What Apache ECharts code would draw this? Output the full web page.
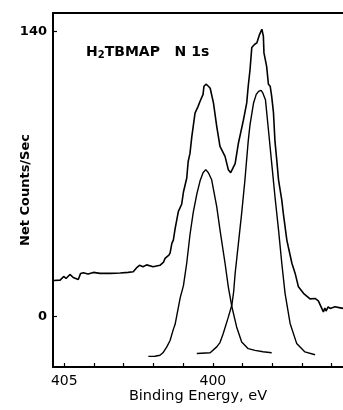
<!DOCTYPE html>
<html>
<head>
<meta charset="utf-8">
<script src="https://cdn.jsdelivr.net/npm/echarts@6/dist/echarts.min.js"></script>
<style>
  html, body { margin: 0; padding: 0; background: #fff; }
  #chart { width: 343px; height: 410px; }
</style>
</head>
<body>
<div id="chart"></div>
<script>
// measured N1s envelope (binding energy in eV, net counts/sec)
const measEnergy = [405.35, 405.14, 405.02, 404.94, 404.81, 404.70, 404.53, 404.45, 404.36, 404.20,
  404.02, 403.80, 403.46, 403.12, 402.85, 402.68, 402.55, 402.47, 402.35, 402.23,
  402.01, 401.78, 401.66, 401.61, 401.48, 401.44, 401.38, 401.33, 401.27, 401.16,
  401.05, 400.99, 400.88, 400.83, 400.77, 400.71, 400.60, 400.50, 400.43, 400.33,
  400.30, 400.23, 400.15, 400.09, 399.98, 399.87, 399.76, 399.59, 399.48, 399.40,
  399.36, 399.25, 399.14, 398.97, 398.86, 398.81, 398.75, 398.69, 398.60, 398.52,
  398.43, 398.35, 398.30, 398.28, 398.19, 398.13, 398.07, 398.02, 397.96, 397.91,
  397.85, 397.79, 397.68, 397.63, 397.51, 397.46, 397.34, 397.23, 397.12, 396.95,
  396.85, 396.73, 396.56, 396.45, 396.39, 396.28, 396.23, 396.19, 396.12, 396.05,
  395.89, 395.75, 395.62];
const measCounts = [17.5, 17.7, 19.5, 18.5, 20.5, 19, 18, 21, 21.3, 20.7,
  21.5, 21, 21, 21.2, 21.5, 21.8, 24, 25, 24.3, 25.2,
  24.3, 25, 26.5, 28.4, 30, 31, 35.8, 37.4, 43, 51.5,
  55, 61, 67.8, 76, 80, 88, 99.8, 103, 105.6, 109,
  113, 114, 113, 112, 104.8, 93.3, 83.4, 78.5, 72, 70.5,
  71, 75, 85, 96.5, 104.8, 113, 121, 132, 133.5, 134.3,
  138.4, 141, 137.6, 129.4, 122.8, 114, 113, 108, 100, 86,
  76.8, 67, 57, 50.6, 37.4, 34, 26, 21, 14.4, 11.2,
  10, 8.5, 8.7, 7.5, 7, 2.1, 4, 2.5, 4.5, 3.8,
  4.6, 4.2, 3.8];

// fitted component 1 (higher binding energy)
const fit1Energy = [402.17, 401.95, 401.78, 401.68, 401.55, 401.44, 401.33, 401.27, 401.10, 400.99,
  400.88, 400.77, 400.66, 400.54, 400.43, 400.33, 400.24, 400.15, 400.04, 399.87,
  399.76, 399.59, 399.48, 399.36, 399.20, 399.03, 398.81, 398.58, 398.31, 398.02];
const fit1Counts = [-19.8, -19.7, -19.2, -18, -15.1, -12, -6.5, -4, 9, 15,
  26, 40, 51, 60, 66.5, 70.5, 72, 70.5, 67, 53.8,
  42.4, 26, 14.4, 4.6, -5.3, -12.7, -16, -16.8, -17.5, -18];

// fitted component 2 (lower binding energy)
const fit2Energy = [400.54, 400.09, 399.87, 399.76, 399.65, 399.48, 399.36, 399.30, 399.25, 399.14,
  399.03, 398.92, 398.81, 398.75, 398.63, 398.54, 398.46, 398.38, 398.33, 398.23,
  398.13, 398.02, 397.91, 397.79, 397.68, 397.57, 397.40, 397.18, 396.90, 396.56];
const fit2Counts = [-18.4, -18, -15.1, -13, -8.5, -0.5, 5.5, 12, 21, 35.8,
  50.6, 67, 86, 94, 104.8, 109, 110.5, 111, 110, 106.4,
  91.6, 75.2, 58.8, 42.4, 26, 11.2, -3.6, -13.4, -17.6, -19];

const xTickValues = [396, 397, 398, 399, 400, 401, 402, 403, 404, 405];
const xLabelValues = [400, 405];
const yTickValues = [0, 140];

const pairs = (xs, ys) => xs.map((x, i) => [x, ys[i]]);

const font = 'DejaVu Sans';
const chart = echarts.init(document.getElementById('chart'));

const lineSeries = (data, width) => ({
  type: 'line',
  data: data,
  showSymbol: false,
  smooth: false,
  lineStyle: { color: '#000', width: width },
  silent: true,
  animation: false
});

chart.setOption({
  animation: false,
  grid: { left: 53, right: 0, top: 13, bottom: 43, outerBoundsMode: 'none', containLabel: false },
  xAxis: [{
    type: 'value',
    inverse: true,
    min: 395.62,
    max: 405.38,
    splitLine: { show: false },
    axisLine: { onZero: false, lineStyle: { color: '#000', width: 2 } },
    axisTick: { inside: true, length: 4, customValues: xTickValues, lineStyle: { color: '#000', width: 1.2 } },
    axisLabel: { customValues: xLabelValues, color: '#000', fontFamily: font, fontSize: 14, margin: 7 },
    name: 'Binding Energy, eV',
    nameLocation: 'middle',
    nameGap: 22,
    nameMoveOverlap: false,
    nameTextStyle: { color: '#000', fontFamily: font, fontSize: 14.5 }
  }, {
    type: 'value',
    position: 'top',
    inverse: true,
    min: 395.62,
    max: 405.38,
    splitLine: { show: false },
    axisLine: { onZero: false, lineStyle: { color: '#000', width: 2 } },
    axisTick: { show: false },
    axisLabel: { show: false }
  }],
  yAxis: {
    type: 'value',
    min: -25,
    max: 149,
    splitLine: { show: false },
    axisLine: { show: true, onZero: false, lineStyle: { color: '#000', width: 2 } },
    axisTick: { show: true, inside: true, length: 4, customValues: yTickValues, lineStyle: { color: '#000', width: 1.2 } },
    axisLabel: { customValues: yTickValues, color: '#000', fontFamily: font, fontSize: 13, fontWeight: 'bold', margin: 6 },
    name: 'Net Counts/Sec',
    nameLocation: 'middle',
    nameRotate: 90,
    nameGap: 21,
    nameMoveOverlap: false,
    nameTextStyle: { color: '#000', fontFamily: font, fontSize: 13, fontWeight: 'bold' }
  },
  graphic: [{
    type: 'text',
    left: 86,
    top: 45,
    style: {
      text: '{a|H}{s|2}{a|TBMAP   N 1s}',
      rich: {
        a: { fontFamily: font, fontSize: 14, fontWeight: 'bold', fill: '#000' },
        s: { fontFamily: font, fontSize: 10, fontWeight: 'bold', fill: '#000', padding: [6, 0, 0, 0] }
      }
    }
  }],
  series: [
    lineSeries(pairs(measEnergy, measCounts), 1.6),
    lineSeries(pairs(fit1Energy, fit1Counts), 1.4),
    lineSeries(pairs(fit2Energy, fit2Counts), 1.4)
  ]
});
</script>
</body>
</html>
